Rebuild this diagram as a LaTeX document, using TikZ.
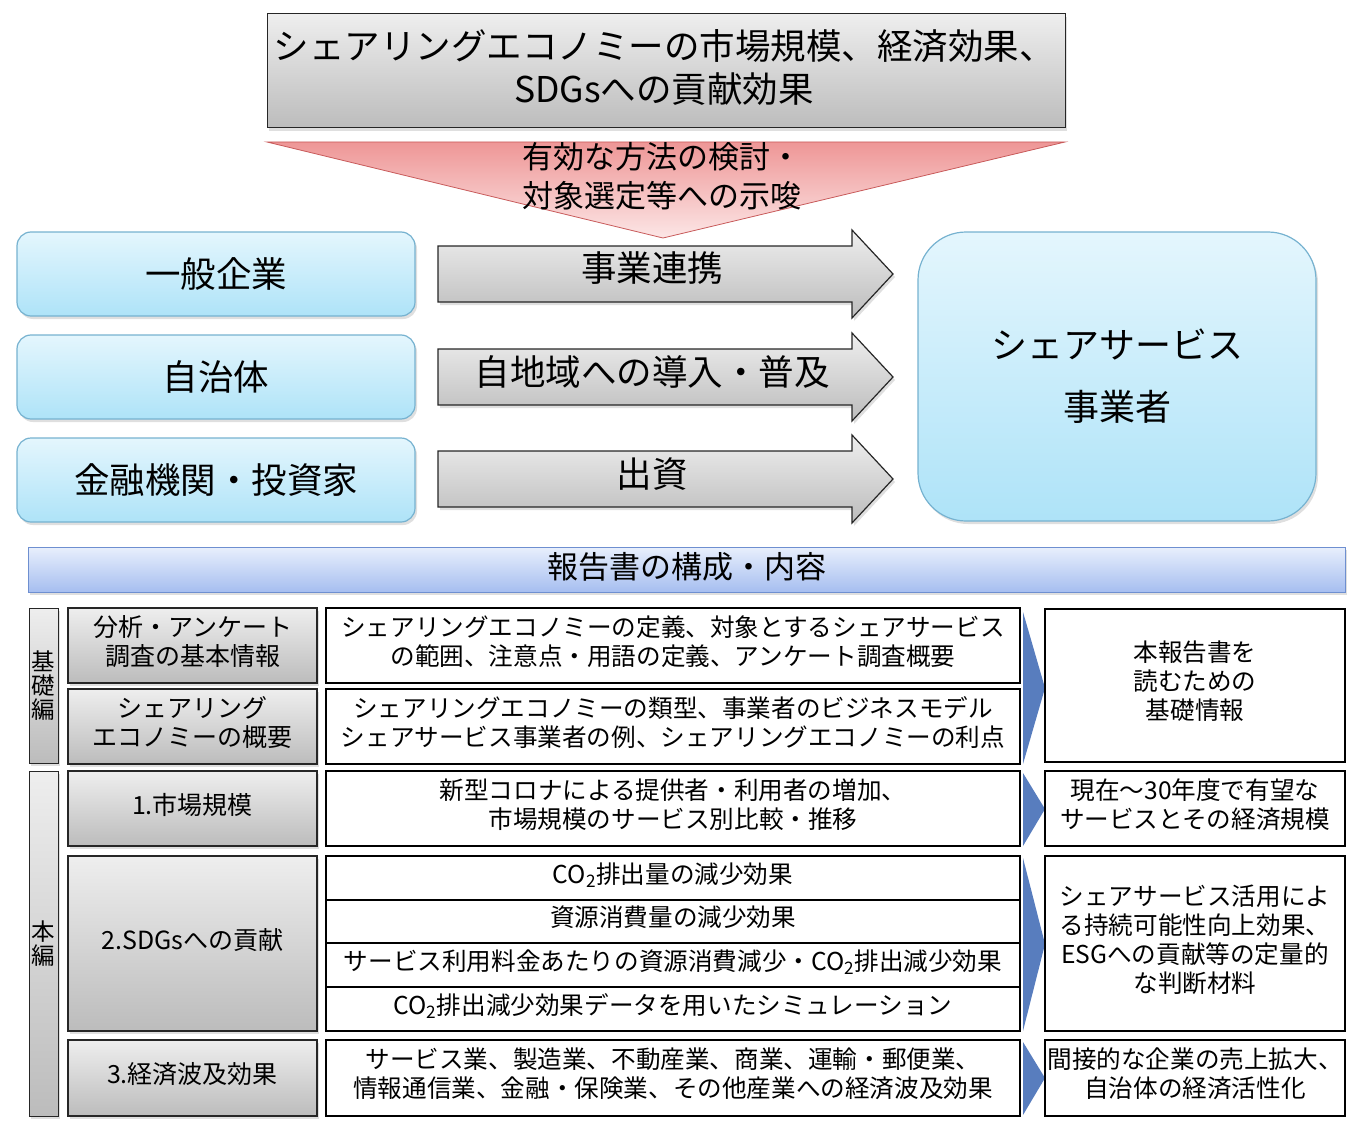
\documentclass[tikz,border=0pt]{standalone}
\usepackage{fontspec}
\setmainfont{Noto Sans CJK JP}
\usetikzlibrary{shadows}
\newcommand\myfs[2]{\fontsize{#1pt}{#2pt}\selectfont}
\definecolor{grayTop}{RGB}{238,238,238}
\definecolor{grayBot}{RGB}{188,188,188}
\definecolor{blueTop}{RGB}{228,246,253}
\definecolor{blueBot}{RGB}{174,227,248}
\definecolor{blueEdge}{RGB}{118,178,208}
\definecolor{redTop}{RGB}{238,150,150}
\definecolor{redBot}{RGB}{252,230,230}
\definecolor{redEdge}{RGB}{200,90,90}
\definecolor{hdTop}{RGB}{232,239,252}
\definecolor{hdBot}{RGB}{166,190,240}
\definecolor{hdEdge}{RGB}{110,143,208}
\definecolor{triBlue}{RGB}{88,125,190}
\begin{document}
\begin{tikzpicture}[x=1pt,y=-1pt,
  shd/.style={drop shadow={opacity=0.25,shadow xshift=2pt,shadow yshift=-3pt}},
  grayfill/.style={top color=grayTop,bottom color=grayBot},
  boxbase/.style={inner sep=0pt,outer sep=0pt,anchor=north west,align=center},
  titlebox/.style={boxbase,draw=black!85,line width=1pt,grayfill,shd},
  bluebox/.style={boxbase,draw=blueEdge,line width=1.2pt,rounded corners=14pt,
     top color=blueTop,bottom color=blueBot,shd,minimum width=398pt,minimum height=84pt,
     font=\myfs{35.5}{43}},
  blockarrow/.style={draw=black!85,line width=1.2pt,grayfill,shd},
  arrowtext/.style={font=\myfs{35.5}{43},inner sep=0pt},
  hdbox/.style={boxbase,draw=hdEdge,line width=1pt,top color=hdTop,bottom color=hdBot,shd,
     font=\myfs{31}{36},text depth=8pt},
  sidebox/.style={boxbase,draw=black!85,line width=1pt,grayfill,shd,minimum width=29pt,
     font=\myfs{23.5}{24}},
  lbox/.style={boxbase,draw=black!85,line width=1.2pt,grayfill,shd,minimum width=249pt,
     font=\myfs{25}{29},text depth=10pt},
  mbox/.style={boxbase,draw=black,line width=1.1pt,fill=white,minimum width=694pt,
     font=\myfs{24.6}{29},text depth=10pt},
  rbox/.style={boxbase,draw=black,line width=1.1pt,fill=white,minimum width=300pt,
     font=\myfs{24.6}{29},text depth=10pt},
  chev/.style={fill=triBlue}
]
\useasboundingbox (0,0) rectangle (1362,1134);

% title
\node[titlebox,minimum width=798pt,minimum height=114pt] (title) at (267,14) {};
\node[font=\myfs{35.5}{43},align=center,inner sep=0pt] (titletxt) at (664,67)
  {シェアリングエコノミーの市場規模、経済効果、\\SDGsへの貢献効果};

% red triangle
\path[draw=redEdge,line width=0.8pt,top color=redTop,bottom color=redBot]
  (267,142) -- (1065,142) -- (663,238) -- cycle;
\node[anchor=west,align=left,font=\myfs{31}{39},inner sep=0pt] (hint) at (522,176.5)
  {有効な方法の検討・\\対象選定等への示唆};

% left actors
\node[bluebox] (corp) at (17,232) {一般企業};
\node[bluebox] (gov) at (17,335) {自治体};
\node[bluebox] (fin) at (17,438) {金融機関・投資家};

% block arrows
\path[blockarrow] (438,246) -- (852,246) -- (852,230) -- (893,274) -- (852,318) -- (852,302) -- (438,302) -- cycle;
\node[arrowtext] (a1) at (652,268) {事業連携};
\path[blockarrow] (438,349) -- (852,349) -- (852,333) -- (893,377) -- (852,421) -- (852,405) -- (438,405) -- cycle;
\node[arrowtext] (a2) at (652,372) {自地域への導入・普及};
\path[blockarrow] (438,451) -- (852,451) -- (852,435) -- (893,479) -- (852,523) -- (852,507) -- (438,507) -- cycle;
\node[arrowtext] (a3) at (652,474) {出資};

% operator
\node[bluebox,rounded corners=48pt,minimum width=398pt,minimum height=289pt,
  font=\myfs{36}{62}] (op) at (918,232) {シェアサービス\\事業者};

% header
\node[hdbox,minimum width=1317pt,minimum height=45pt] (hdr) at (28,547) {報告書の構成・内容};

% side labels
\node[sidebox,minimum height=155pt] (kiso) at (29,608) {基\\礎\\編};
\node[sidebox,minimum height=345pt] (hon) at (29,771) {本\\編};

% left gray boxes
\node[lbox,minimum height=75pt] (l1) at (68,608) {分析・アンケート\\調査の基本情報};
\node[lbox,minimum height=75pt] (l2) at (68,689) {シェアリング\\エコノミーの概要};
\node[lbox,minimum height=75pt] (l3) at (68,771) {1.市場規模};
\node[lbox,minimum height=175pt] (l4) at (68,856) {2.SDGsへの貢献};
\node[lbox,minimum height=76pt] (l5) at (68,1040) {3.経済波及効果};

% middle boxes
\node[mbox,minimum height=75pt] (m1) at (326,608)
  {シェアリングエコノミーの定義、対象とするシェアサービス\\の範囲、注意点・用語の定義、アンケート調査概要};
\node[mbox,minimum height=75pt] (m2) at (326,689)
  {シェアリングエコノミーの類型、事業者のビジネスモデル\\シェアサービス事業者の例、シェアリングエコノミーの利点};
\node[mbox,minimum height=75pt] (m3) at (326,771)
  {新型コロナによる提供者・利用者の増加、\\市場規模のサービス別比較・推移};
\node[mbox,minimum height=44pt] (m4a) at (326,856) {CO\textsubscript{2}排出量の減少効果};
\node[mbox,minimum height=43pt] (m4b) at (326,900) {資源消費量の減少効果};
\node[mbox,minimum height=44pt] (m4c) at (326,943) {サービス利用料金あたりの資源消費減少・CO\textsubscript{2}排出減少効果};
\node[mbox,minimum height=44pt] (m4d) at (326,987) {CO\textsubscript{2}排出減少効果データを用いたシミュレーション};
\node[mbox,minimum height=76pt] (m5) at (326,1040)
  {サービス業、製造業、不動産業、商業、運輸・郵便業、\\情報通信業、金融・保険業、その他産業への経済波及効果};

% chevrons
\path[chev] (1023,612) -- (1045,688) -- (1023,764) -- cycle;
\path[chev] (1023,773) -- (1045,809) -- (1023,846) -- cycle;
\path[chev] (1023,858) -- (1045,944) -- (1023,1031) -- cycle;
\path[chev] (1023,1042) -- (1045,1078) -- (1023,1115) -- cycle;

% right boxes
\node[rbox,minimum height=153pt] (r1) at (1045,609) {本報告書を\\読むための\\基礎情報};
\node[rbox,minimum height=75pt] (r3) at (1045,771) {現在～30年度で有望な\\サービスとその経済規模};
\node[rbox,minimum height=175pt] (r4) at (1045,856)
  {シェアサービス活用によ\\る持続可能性向上効果、\\ESGへの貢献等の定量的\\な判断材料};
\node[rbox,minimum height=76pt] (r5) at (1045,1040) {間接的な企業の売上拡大、\\自治体の経済活性化};
\end{tikzpicture}
\end{document}
